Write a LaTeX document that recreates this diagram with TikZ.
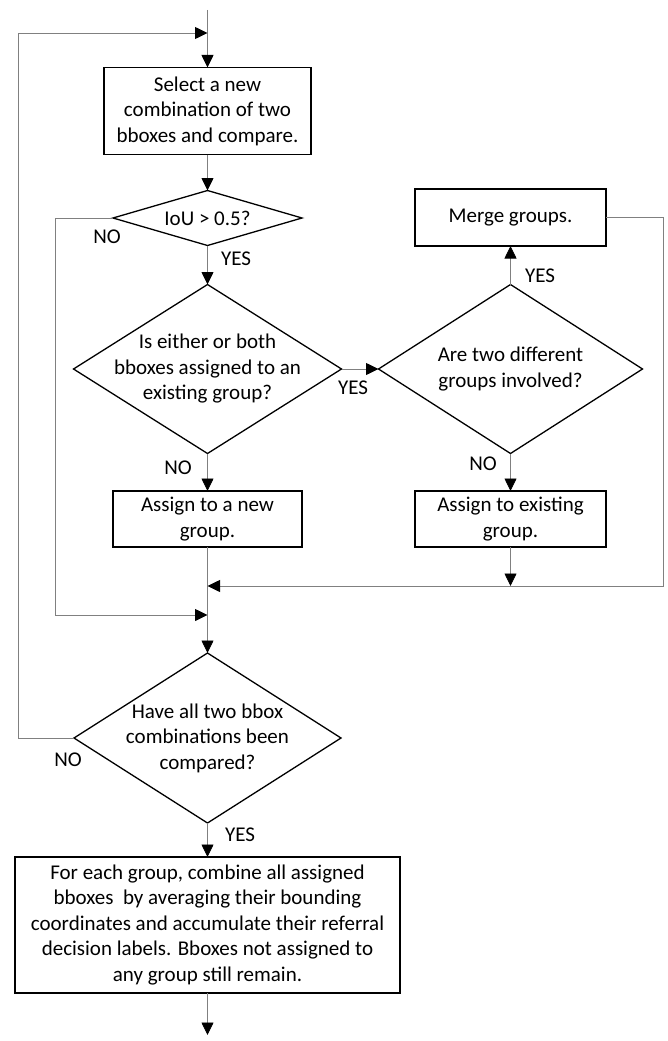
\documentclass[tikz,border=0pt]{standalone}
\usepackage{fontspec}
\setmainfont{Carlito}
\usetikzlibrary{shapes.geometric,arrows.meta}
\tikzset{
  every node/.style={font=\fontsize{21}{25.5}\selectfont},
  stepbox/.style={draw, line width=1.3pt, rectangle, align=center, inner sep=0pt, outer sep=0pt},
  decision/.style={draw, line width=1.3pt, diamond, inner sep=0pt, outer sep=0pt},
  qtext/.style={align=center, inner sep=0pt},
  lbl/.style={inner sep=1pt},
  conn/.style={draw=black!50, line width=0.8pt},
  arr/.style={conn, -{Triangle[length=12.5pt,width=12pt,color=black]}}
}
\begin{document}
\begin{tikzpicture}[x=1pt,y=-1pt]
  \useasboundingbox (0,0) rectangle (667,1041);
  % start
  \coordinate (S) at (207.5,10);
  \coordinate (J1) at (207.5,33);
  \node[stepbox, minimum width=207, minimum height=87] at (207.5,111) (A) {Select a new\\combination of two\\bboxes and compare.};
  % first question
  \node[decision, minimum width=189, minimum height=55] at (207.5,218) (Q1) {};
  \node[qtext] at (Q1) {IoU > 0.5?};
  % second question
  \node[decision, minimum width=268, minimum height=169] at (207.5,369) (Q2) {};
  \node[qtext] at (Q2) {Is either or both\\bboxes assigned to an\\existing group?};
  \node[stepbox, minimum width=189, minimum height=56] at (207.5,519) (B1) {Assign to a new\\group.};
  % right branch
  \node[decision, minimum width=264, minimum height=169] at (510.5,369) (Q3) {};
  \node[qtext] at (Q3) {Are two different\\groups involved?};
  \node[stepbox, minimum width=191, minimum height=57] at (510.5,217.5) (M) {Merge groups.};
  \node[stepbox, minimum width=191, minimum height=56] at (510.5,519) (B2) {Assign to existing\\group.};
  % joins
  \coordinate (J2) at (207.5,586);
  \coordinate (J3) at (207.5,615);
  \coordinate (JR) at (510.5,586);
  % last question
  \node[decision, minimum width=267, minimum height=170] at (207.5,738) (Q4) {};
  \node[qtext] at (Q4) {Have all two bbox\\combinations been\\compared?};
  \node[stepbox, minimum width=385, minimum height=136] at (207.5,925) (F) {For each group, combine all assigned\\bboxes\ \ by averaging their bounding\\coordinates and accumulate their referral\\decision labels. Bboxes not assigned to\\any group still remain.};
  \coordinate (E) at (207.5,1035);
  % connectors
  \draw[arr] (S) -- (A);
  \draw[arr] (Q4.west) -- (18,738) -- (18,33) -- (J1);
  \draw[arr] (A) -- (Q1);
  \draw[arr] (Q1) -- (Q2);
  \draw[arr] (Q1.west) -- (55,218) -- (55,615) -- (J3);
  \draw[arr] (Q2.east) -- (Q3.west);
  \draw[arr] (Q3) -- (M);
  \draw[arr] (Q3) -- (B2);
  \draw[arr] (Q2) -- (B1);
  \draw[arr] (B1) -- (Q4);
  \draw[arr] (B2) -- (JR);
  \draw[arr] (M.east) -- (663,217.5) -- (663,586) -- (J2);
  \draw[arr] (Q4) -- (F);
  \draw[arr] (F) -- (E);
  % labels
  \node[lbl] at (107,237) (n1) {NO};
  \node[lbl] at (236,259) (y1) {YES};
  \node[lbl] at (353,388) (y2) {YES};
  \node[lbl] at (540,276) (y3) {YES};
  \node[lbl] at (483,464) (n3) {NO};
  \node[lbl] at (178,468) (n2) {NO};
  \node[lbl] at (68,760) (n4) {NO};
  \node[lbl] at (240,835) (y4) {YES};
\end{tikzpicture}
\end{document}
